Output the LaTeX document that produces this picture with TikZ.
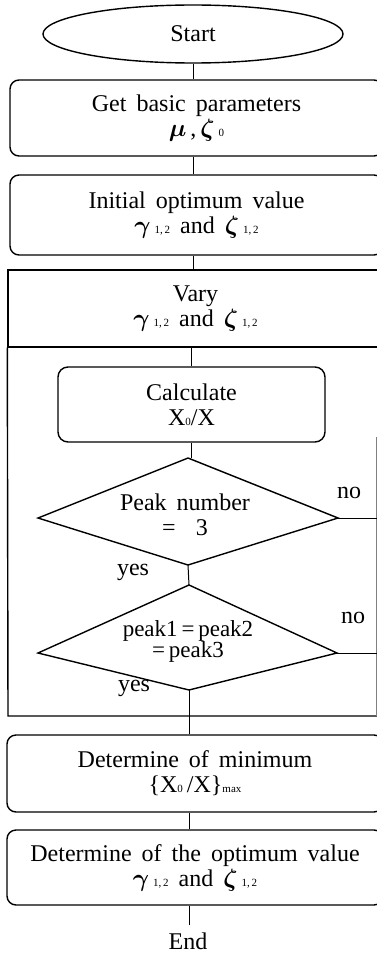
\documentclass[tikz,border=0pt]{standalone}
\usepackage{amsmath,amsbsy}
\usepackage{fontspec}
\setmainfont{Liberation Serif}
\usetikzlibrary{shapes.geometric}
\newcommand\smallsub[1]{{\fontsize{11}{12}\selectfont #1}}
\newcommand\gzline{$\boldsymbol{\gamma}$\,\smallsub{1,\,2} and $\boldsymbol{\zeta}$\,\smallsub{1,\,2}}
\newcommand\muzeta{$\boldsymbol{\mu}$\,,\,$\boldsymbol{\zeta}$\,\smallsub{0}}
\newcommand\bigfont{\fontsize{24}{25}\selectfont\spaceskip=10pt plus 2pt\relax}
\tikzset{
  every node/.style={font=\bigfont},
  boxline/.style={line width=1.4pt},
  conn/.style={line width=1.0pt},
  faint/.style={line width=0.6pt, gray},
  startnode/.style={draw, ellipse, line width=1.4pt, minimum width=300pt, minimum height=58pt, inner sep=0pt},
  procbox/.style={draw, rounded corners=9pt, line width=1.4pt, align=center, inner sep=0pt},
  plainbox/.style={draw, line width=1.4pt, align=center, inner sep=0pt},
  txt/.style={align=center, inner sep=0pt},
  lbl/.style={inner sep=0pt}
}
\begin{document}
\begin{tikzpicture}[x=1pt,y=-1pt]
\useasboundingbox (0,0) rectangle (377,960);
\clip (0,0) rectangle (377,960);
% start
\node[startnode] (start) at (193,34) {Start};
% boxes
\node[procbox, minimum width=373pt, minimum height=76pt] (b1) at (196.5,118) {Get basic parameters\\ \muzeta};
\node[procbox, minimum width=373pt, minimum height=80pt] (b2) at (196.5,215) {Initial optimum value\\ \gzline};
\node[plainbox, minimum width=375pt, minimum height=77pt] (vary) at (195.5,308.5) {Vary\\ \gzline};
% loop frame
\coordinate (lpbl) at (8,716);
\coordinate (lpbr) at (383,716);
\draw[boxline] (vary.south west) -- (lpbl) -- (lpbr);
\coordinate (rt) at (376,437);
\coordinate (rb) at (376,716);
\draw[faint] (rt) -- (rb);
% calculate
\node[procbox, rounded corners=10pt, minimum width=267pt, minimum height=75pt] (calc) at (191.5,404.5) {Calculate\\ X\smallsub{0}/X};
% diamond 1
\coordinate (d1t) at (188,458);
\coordinate (d1l) at (38,518);
\coordinate (d1b) at (188,565);
\coordinate (d1r) at (338,518);
\draw[boxline, line join=miter] (d1t) -- (d1r) -- (d1b) -- (d1l) -- cycle;
\node[txt] (d1txt) at (185,515) {Peak number\\ = \ 3};
\node[lbl] (no1) at (349,493) {no};
\coordinate (e1) at (377,518);
\draw[conn] (d1r) -- (e1);
\node[lbl] (yes1) at (133,572) {yes};
% diamond 2
\coordinate (d2t) at (189,585);
\coordinate (d2l) at (38,653);
\coordinate (d2b) at (189,690);
\coordinate (d2r) at (337,653);
\draw[boxline, line join=miter] (d2t) -- (d2r) -- (d2b) -- (d2l) -- cycle;
\node[txt, font=\fontsize{23}{21}\selectfont] (d2txt) at (188,641) {peak1\,=\,peak2\\ =\,peak3};
\node[lbl] (no2) at (353,618) {no};
\coordinate (e2) at (377,653);
\draw[conn] (d2r) -- (e2);
\node[lbl] (yes2) at (134,688) {yes};
% lower boxes
\node[procbox, minimum width=376pt, minimum height=77pt] (det) at (195,773.5) {Determine of minimum\\ \{X\smallsub{0}\,/X\}\smallsub{max}};
\node[procbox, minimum width=376pt, minimum height=75pt] (last) at (195,867.5) {Determine of the optimum value\\ \gzline};
\node[lbl] (end) at (188,941) {End};
% connectors
\draw[conn] (start.south) -- (start.south |- b1.north);
\draw[conn] (start.south |- b1.south) -- (start.south |- b2.north);
\draw[conn] (start.south |- b2.south) -- (start.south |- vary.north);
\draw[conn] (calc.north |- vary.south) -- (calc.north);
\draw[conn] (calc.south) -- (calc.south |- d1t);
\draw[conn] (d1b) -- (d2t);
\draw[conn] (d2b) -- (d2b |- det.north);
\draw[conn] (d2b |- det.south) -- (d2b |- last.north);
\draw[conn] (d2b |- last.south) -- (d2b |- 0,925);
\end{tikzpicture}
\end{document}
